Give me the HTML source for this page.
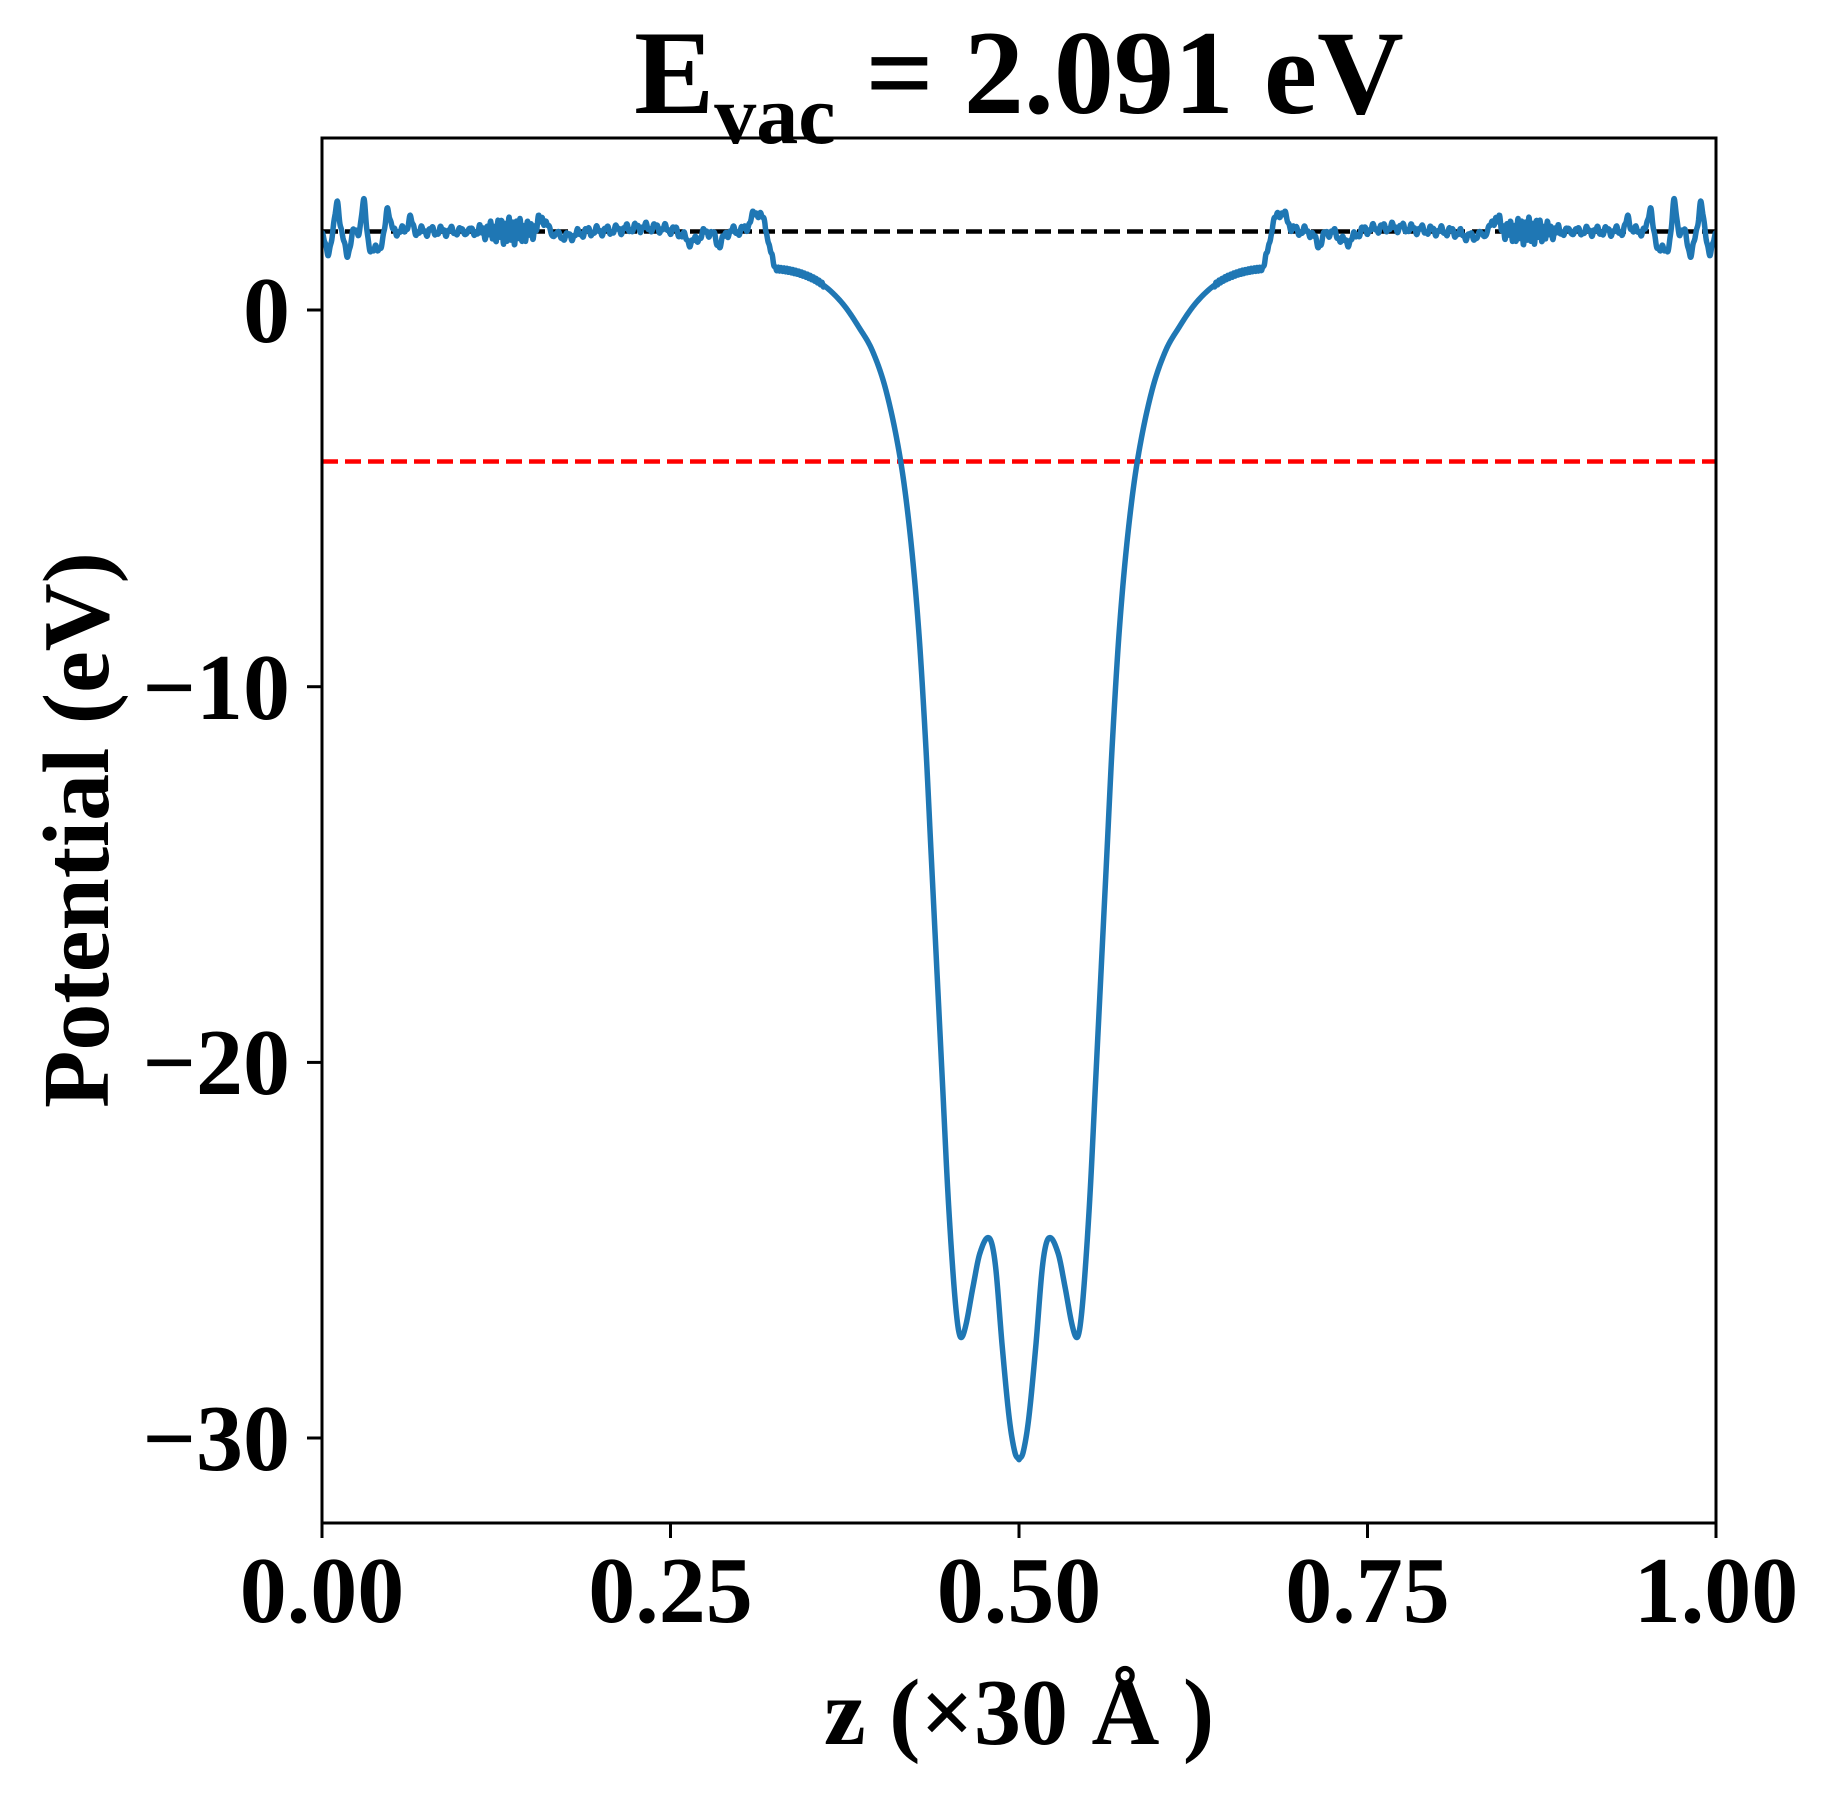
<!DOCTYPE html>
<html><head><meta charset="utf-8"><style>
html,body{margin:0;padding:0;background:#fff;}
svg{display:block;}
text{font-family:"Liberation Serif","Times New Roman",serif;font-weight:bold;fill:#000;}
</style></head><body>
<svg id="s" width="1833" height="1794" viewBox="0 0 1833 1794" xmlns="http://www.w3.org/2000/svg" font-family="Liberation Serif, serif" font-weight="bold">
<rect width="1833" height="1794" fill="#fff"/>
<defs><clipPath id="c"><rect x="322" y="138" width="1394" height="1385"/></clipPath></defs>
<line x1="322" y1="231.5" x2="1716" y2="231.5" stroke="#000" stroke-width="4.5" stroke-dasharray="16,7"/>
<line x1="322" y1="461.5" x2="1716" y2="461.5" stroke="#ff0000" stroke-width="4.5" stroke-dasharray="16,7"/>
<path id="curve" d="" fill="none" stroke="#1f77b4" stroke-width="5.5" stroke-linejoin="round" clip-path="url(#c)"/>
<rect x="322" y="138" width="1394" height="1385" fill="none" stroke="#000" stroke-width="3"/>
<g stroke="#000" stroke-width="3">
<line x1="322" y1="1523" x2="322" y2="1538"/><line x1="670.5" y1="1523" x2="670.5" y2="1538"/>
<line x1="1019" y1="1523" x2="1019" y2="1538"/><line x1="1367.5" y1="1523" x2="1367.5" y2="1538"/>
<line x1="1716" y1="1523" x2="1716" y2="1538"/>
<line x1="307" y1="310" x2="322" y2="310"/><line x1="307" y1="686.7" x2="322" y2="686.7"/>
<line x1="307" y1="1062.4" x2="322" y2="1062.4"/><line x1="307" y1="1438" x2="322" y2="1438"/>
</g>
<g font-size="94" text-anchor="middle">
<text x="322" y="1622">0.00</text><text x="670.5" y="1622">0.25</text><text x="1019" y="1622">0.50</text>
<text x="1367.5" y="1622">0.75</text><text x="1716" y="1622">1.00</text>
</g>
<g font-size="94" text-anchor="end">
<text x="290" y="342">0</text><text x="290" y="719">−10</text>
<text x="290" y="1094">−20</text><text x="290" y="1470">−30</text>
</g>
<text x="1019" y="1744" font-size="94" text-anchor="middle">z (×30 Å )</text>
<text transform="translate(108,830) rotate(-90)" font-size="94" text-anchor="middle">Potential (eV)</text>
<text x="1019" y="113" font-size="120" text-anchor="middle">E<tspan font-size="84" dy="30">vac</tspan><tspan dy="-30"> = 2.091 eV</tspan></text>
</svg>
<script>
(function(){
var X0=322,W=1394,Y0=310,S=37.57;
var pts=[[0.325,1.1],[0.335,1.05],[0.345,0.95],[0.355,0.78],[0.365,0.5],[0.375,0.1],[0.385,-0.45],[0.395,-1.1],[0.405,-2.2],[0.415,-4.0],[0.422,-6],[0.428,-8.5],[0.433,-11.5],[0.437,-14.5],[0.441,-17.5],[0.445,-20.5],[0.449,-23.5],[0.453,-25.8],[0.456,-27],[0.4585,-27.35],[0.462,-27.0],[0.467,-26.0],[0.472,-25.1],[0.4786,-24.7],[0.483,-25.4],[0.488,-27.6],[0.493,-29.5],[0.497,-30.4],[0.5,-30.6]];
function cr(x){
 for(var i=0;i<pts.length-1;i++){if(x<=pts[i+1][0])break;}
 var p0=pts[Math.max(i-1,0)],p1=pts[i],p2=pts[i+1],p3=pts[Math.min(i+2,pts.length-1)];
 var t=(x-p1[0])/(p2[0]-p1[0]);
 var m1=(p2[1]-p0[1])/(p2[0]-p0[0])*(p2[0]-p1[0]);
 var m2=(p3[1]-p1[1])/(p3[0]-p1[0])*(p2[0]-p1[0]);
 var t2=t*t,t3=t2*t;
 return (2*t3-3*t2+1)*p1[1]+(t3-2*t2+t)*m1+(-2*t3+3*t2)*p2[1]+(t3-t2)*m2;
}
function g(x,c,w,a){return a*Math.exp(-Math.pow((x-c)/w,2));}
function vac(x){
 var v=2.1;
 v+=g(x,0.011,0.002,0.8)-g(x,0.004,0.003,0.55)-g(x,0.018,0.003,0.6);
 v+=g(x,0.030,0.002,0.75)-g(x,0.036,0.003,0.6);
 v+=g(x,0.047,0.002,0.7)-g(x,0.042,0.003,0.45);
 v+=g(x,0.063,0.002,0.35);
 v+=0.09*Math.sin(x*900)+0.05*Math.sin(x*2300+1);
 v+=g(x,0.135,0.025,1)*0.24*Math.sin(x*2400);
 v+=g(x,0.158,0.004,0.35)-g(x,0.175,0.01,0.15);
 v+=g(x,0.232,0.02,0.1);
 v-=g(x,0.265,0.007,0.3)+g(x,0.285,0.004,0.35);
 v+=g(x,0.312,0.006,0.5);
 return v;
}
function f(x){
 var xx=x>0.5?1-x:x;
 if(xx<0.318)return vac(xx);
 if(xx<0.325){var t=(xx-0.318)/0.007;return vac(xx)*(1-t)+cr(0.325)*t+0.04*Math.sin(x*3000);}
 var v=cr(xx);
 if(xx<0.36)v+=0.05*Math.sin(x*3000);
 return v;
}
var d="";
for(var k=0;k<=4000;k++){var x=k/4000;var px=X0+W*x,py=Y0-S*f(x);d+=(k?"L":"M")+px.toFixed(2)+" "+py.toFixed(2);}
document.getElementById("curve").setAttribute("d",d);
})();
</script>
</body></html>
